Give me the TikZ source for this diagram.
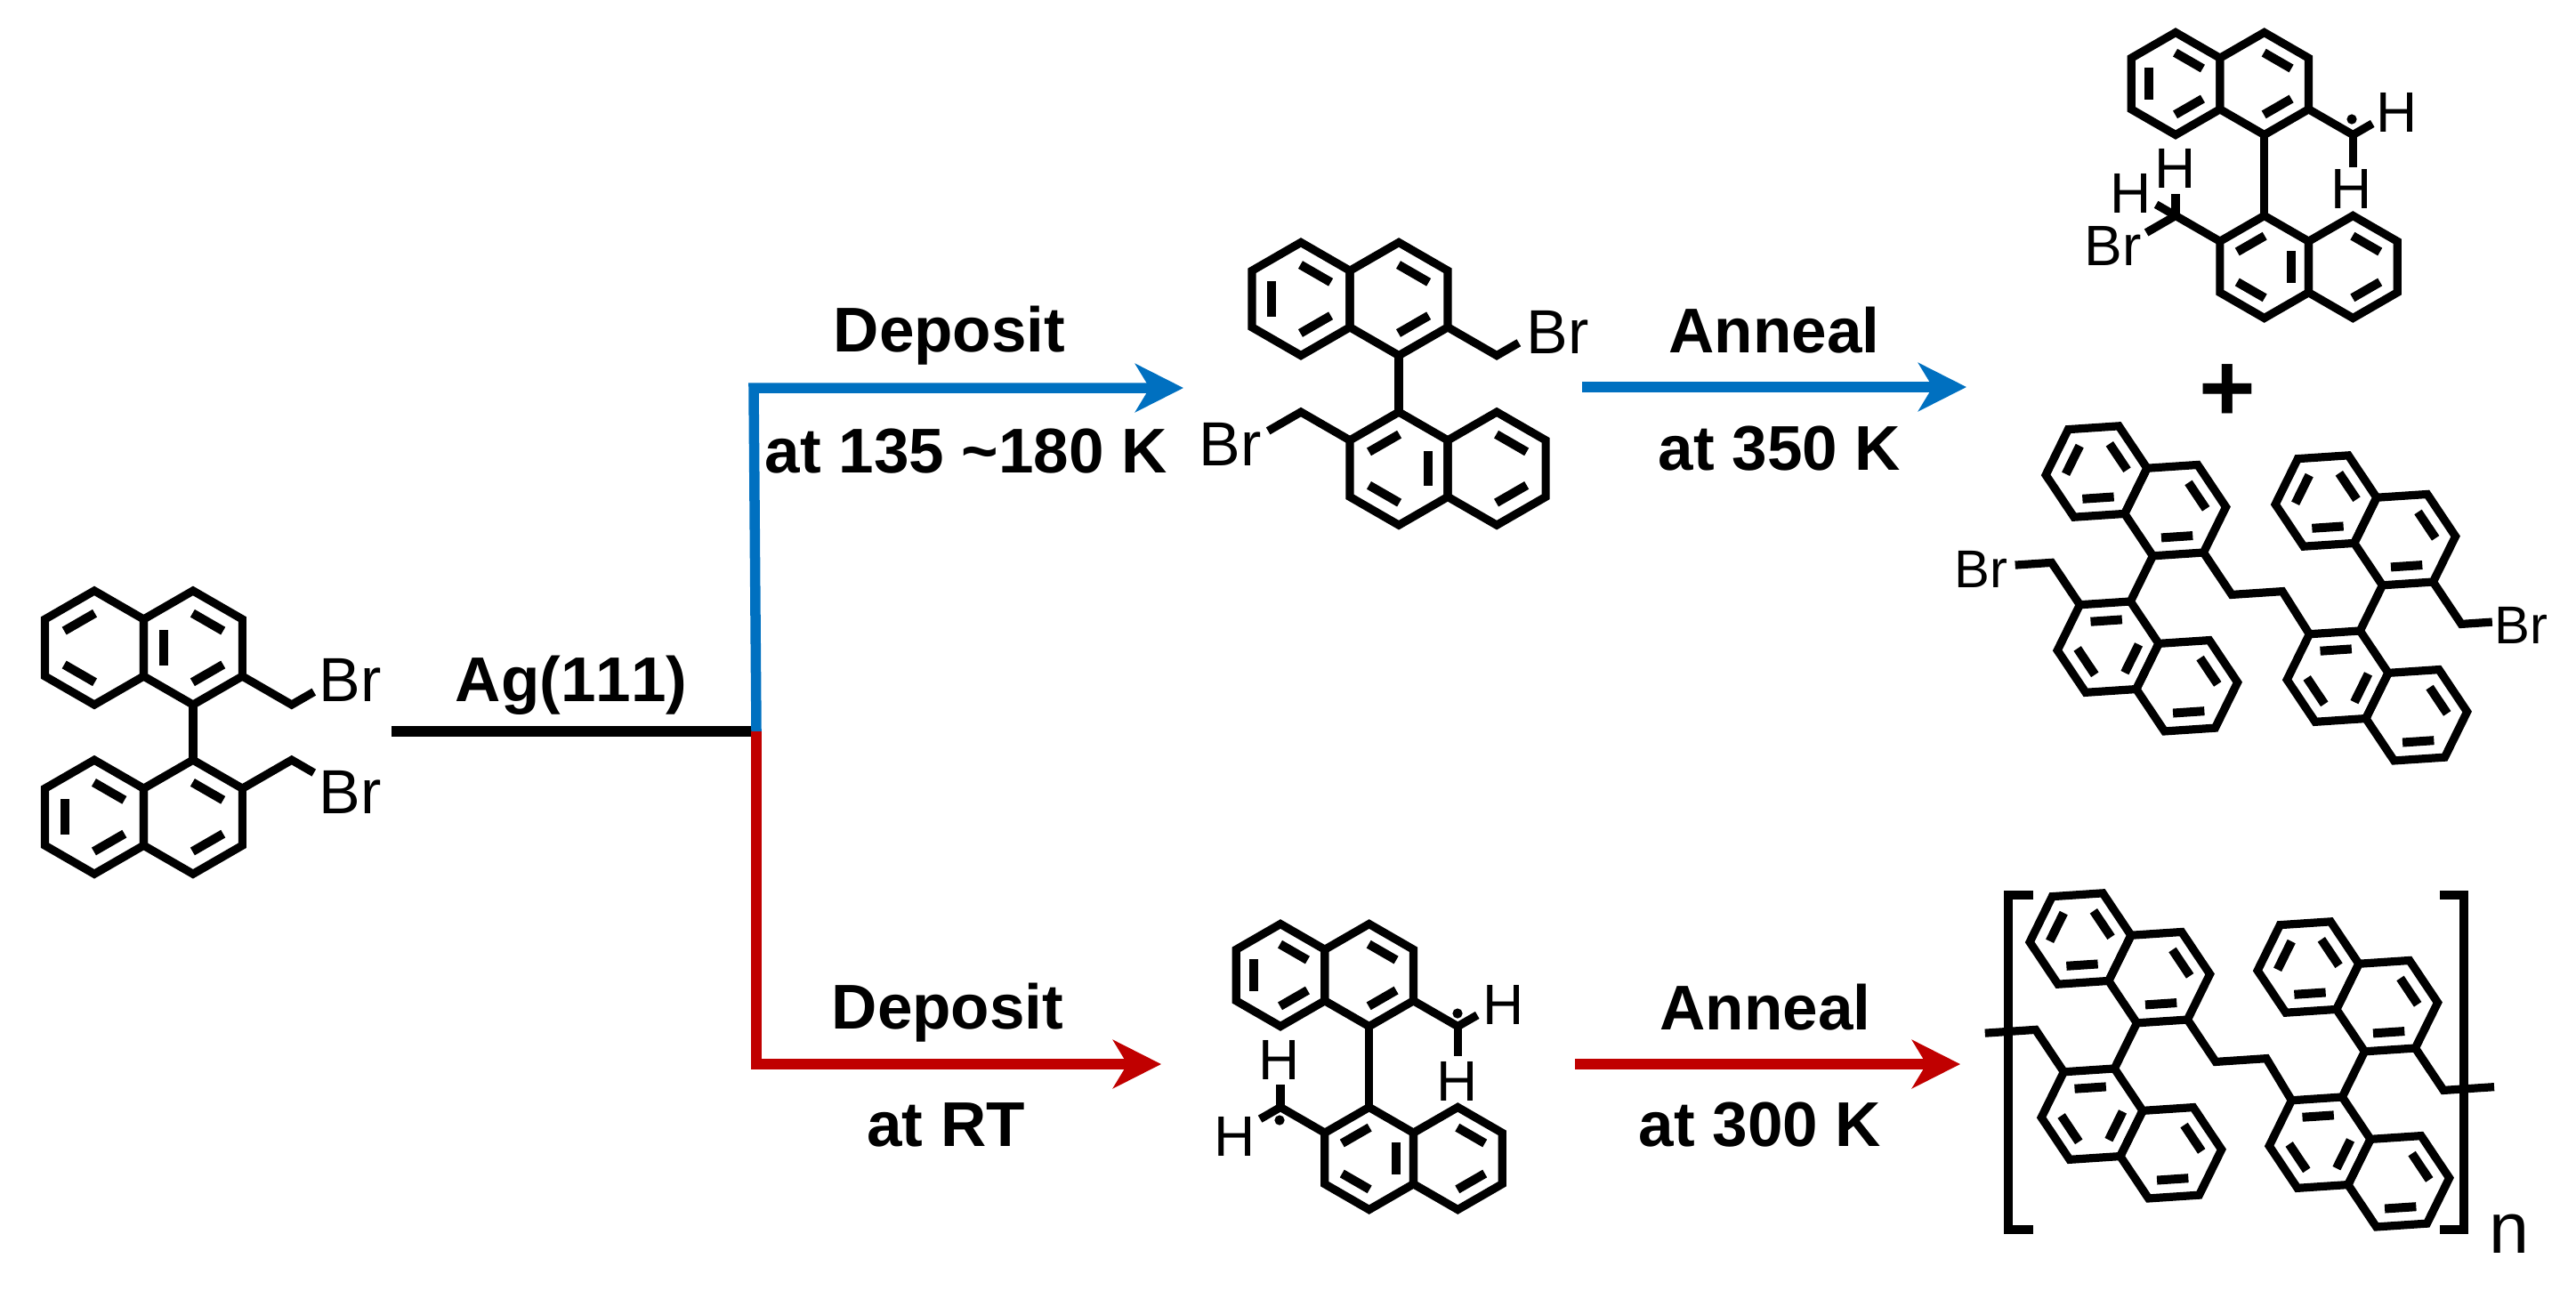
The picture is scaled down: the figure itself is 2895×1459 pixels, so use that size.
\documentclass[tikz,border=0pt]{standalone}
\usepackage{fontspec}
\setmainfont[Kerning=Off]{Liberation Sans}
\usetikzlibrary{arrows.meta}

\definecolor{routeblue}{HTML}{0070C0}
\definecolor{routered}{HTML}{C00000}

\tikzset{
    bond/.style={line width=0.092cm},
    dblbond/.style={line width=0.1cm},
    unit/.style={x={(#1cm,0cm)},y={(0cm,#1cm)}},
    atom/.style={inner sep=0pt,anchor=base west,font=\fontsize{#1pt}{#1pt}\selectfont},
    steptext/.style={inner sep=0pt,anchor=base,font=\fontsize{20.2pt}{24pt}\selectfont\bfseries},
    route/.style={line width=0.115cm,-{Stealth[length=0.54cm,width=0.54cm,inset=0.16cm]}}
}

% One ring: centre, then the edges that carry an inner line
\newcommand{\hexring}[3]{
    \draw[bond] (#1,#2) ++(30:1) -- ++(150:1) -- ++(210:1) -- ++(270:1)
        -- ++(330:1) -- ++(30:1) -- cycle;
    \foreach \a in {#3}
        \draw[dblbond] (#1,#2) ++(\a:0.52) ++(\a+90:0.31) -- ++(\a-90:0.62);
}

% Two offset naphthyl units, #1 = distance between them
\newcommand{\binaph}[1]{
    \hexring{0}{0}{180,60,300}
    \hexring{1.732}{0}{60,300}
    \hexring{1.732}{-#1}{120,240,0}
    \hexring{3.464}{-#1}{60,300}
    \draw[bond] (1.732,-1) -- (1.732,{1-#1});
}

\begin{document}
\begin{tikzpicture}[x=0.01cm,y=-0.01cm]
    \useasboundingbox (0,0) rectangle (2895,1459);

    % Starting molecule
    \begin{scope}[shift={(106,728)},unit=0.64]
        \hexring{0}{0}{120,240}
        \hexring{1.732}{0}{180,60,300}
        \hexring{0}{-2.97}{180,60,300}
        \hexring{1.732}{-2.97}{60,300}
        \draw[bond] (1.732,-1) -- (1.732,-1.97);
        \draw[bond] (2.598,-0.5) -- ++(-30:1) -- ++(30:0.45);
        \draw[bond] (2.598,-2.47) -- ++(30:1) -- ++(-30:0.45);
    \end{scope}
    \node[atom=19.9] (br_a1) at (358,788) {Br};
    \node[atom=19.9] (br_a2) at (358,914) {Br};

    % Deposited at low temperature
    \begin{scope}[shift={(1462,336)},unit=0.635]
        \binaph{3}
        \draw[bond] (2.598,-0.5) -- ++(-30:1) -- ++(30:0.45);
        \draw[bond] (0.866,-2.5) -- ++(150:1) -- ++(210:0.67);
    \end{scope}
    \node[atom=19.9] (br_b1) at (1715,397) {Br};
    \node[atom=19.9] (br_b2) at (1347,523) {Br};

    % Top right product
    \begin{scope}[shift={(2445,94)},unit=0.575]
        \binaph{3.58}
        \draw[bond] (2.598,-0.5) -- ++(-30:1) coordinate (c_1) -- ++(30:0.44);
        \draw[bond] (c_1) -- ++(-90:0.63);
        \draw[bond] (0.866,-3.08) -- ++(150:1) coordinate (c_2) -- ++(210:0.66);
        \draw[bond] (c_2) -- ++(90:0.43);
        \draw[bond] (c_2) -- ++(150:0.44);
    \end{scope}
    \fill (2643,134) circle (1.6pt);
    \node[atom=18.2] (h_c1) at (2670,148) {H};
    \node[atom=18.2,anchor=base] (h_c2) at (2643,234) {H};
    \node[atom=18.2,anchor=base] (h_c3) at (2445,211) {H};
    \node[atom=18.2,anchor=base] (h_c4) at (2395,239) {H};
    \node[atom=18.2] (br_c) at (2342,298) {Br};

    \node[inner sep=0pt,font=\fontsize{31pt}{31pt}\selectfont\bfseries] (plus) at (2503,442) {+};

    % Dimer with bromine ends
    \begin{scope}[shift={(2356,530)},unit=0.57,rotate=-26.2]
        \binaph{3}
        \draw[bond] (0.866,-2.5) -- ++(150:1) -- ++(210:0.72);
        \path (2.598,-0.5) coordinate (d_1) ++(-30:1) coordinate (d_2) ++(30:1) coordinate (d_3);
    \end{scope}
    \begin{scope}[shift={(2614,563)},unit=0.57,rotate=-26.2]
        \binaph{3}
        \coordinate (d_4) at (0.866,-2.5);
        \draw[bond] (2.598,-0.5) -- ++(-30:1) -- ++(30:0.61);
    \end{scope}
    \draw[bond] (d_1) -- (d_2) -- (d_3) -- (d_4);
    \node[atom=17] (br_d1) at (2196,660) {Br};
    \node[atom=17] (br_d2) at (2803,723) {Br};

    % Deposited at room temperature
    \begin{scope}[shift={(1439,1096)},unit=0.575]
        \binaph{3.58}
        \draw[bond] (2.598,-0.5) -- ++(-30:1) coordinate (e_1) -- ++(30:0.44);
        \draw[bond] (e_1) -- ++(-90:0.58);
        \draw[bond] (0.866,-3.08) -- ++(150:1) coordinate (e_2) -- ++(210:0.46);
        \draw[bond] (e_2) -- ++(90:0.45);
    \end{scope}
    \fill (1638,1139) circle (1.6pt);
    \fill (1438,1259) circle (1.6pt);
    \node[atom=18.2] (h_e1) at (1666,1151) {H};
    \node[atom=18.2,anchor=base] (h_e2) at (1638,1237) {H};
    \node[atom=18.2,anchor=base] (h_e3) at (1438,1213) {H};
    \node[atom=18.2,anchor=base] (h_e4) at (1388,1299) {H};

    % Polymer
    \begin{scope}[shift={(2338,1055)},unit=0.57,rotate=-26.2]
        \binaph{3}
        \draw[bond] (0.866,-2.5) -- ++(150:1) -- ++(210:1);
        \path (2.598,-0.5) coordinate (f_1) ++(-30:1) coordinate (f_2) ++(30:1) coordinate (f_3);
    \end{scope}
    \begin{scope}[shift={(2594,1087)},unit=0.57,rotate=-26.2]
        \binaph{3}
        \coordinate (f_4) at (0.866,-2.5);
        \draw[bond] (2.598,-0.5) -- ++(-30:1) -- ++(30:1);
    \end{scope}
    \draw[bond] (f_1) -- (f_2) -- (f_3) -- (f_4);
    \draw[bond] (2285,1006) -- (2257,1006) -- (2257,1382) -- (2285,1382);
    \draw[bond] (2742,1006) -- (2769,1006) -- (2769,1382) -- (2742,1382);
    \node[atom=23] (n) at (2797,1408) {n};

    % Routes
    \coordinate (start) at (440,822);
    \coordinate (fork) at (850,822);
    \coordinate (blue_corner) at (847,436);
    \coordinate (blue_tip) at (1330,436);
    \coordinate (red_corner) at (850,1196);
    \coordinate (red_tip) at (1305,1196);
    \coordinate (anneal_b1) at (1778,435);
    \coordinate (anneal_b2) at (2210,435);
    \coordinate (anneal_r1) at (1770,1196);
    \coordinate (anneal_r2) at (2203,1196);

    \draw[line width=0.12cm] (start) -- (fork);
    \draw[route,routeblue] (fork) -- (blue_corner) -- (blue_tip);
    \draw[route,routered] (fork) -- (red_corner) -- (red_tip);
    \draw[route,routeblue] (anneal_b1) -- (anneal_b2);
    \draw[route,routered] (anneal_r1) -- (anneal_r2);

    % Conditions
    \node[steptext] (ag) at (642,788) {Ag(111)};
    \node[steptext] (dep_b) at (1067,395) {Deposit};
    \node[steptext] (at_b) at (1086,531) {at 135 \char`\~180 K};
    \node[steptext] (ann_b) at (1994,396) {Anneal};
    \node[steptext] (at_b2) at (2000,528) {at 350 K};
    \node[steptext] (dep_r) at (1065,1156) {Deposit};
    \node[steptext] (at_r) at (1063,1288) {at RT};
    \node[steptext] (ann_r) at (1984,1157) {Anneal};
    \node[steptext] (at_r2) at (1978,1288) {at 300 K};
\end{tikzpicture}
\end{document}
